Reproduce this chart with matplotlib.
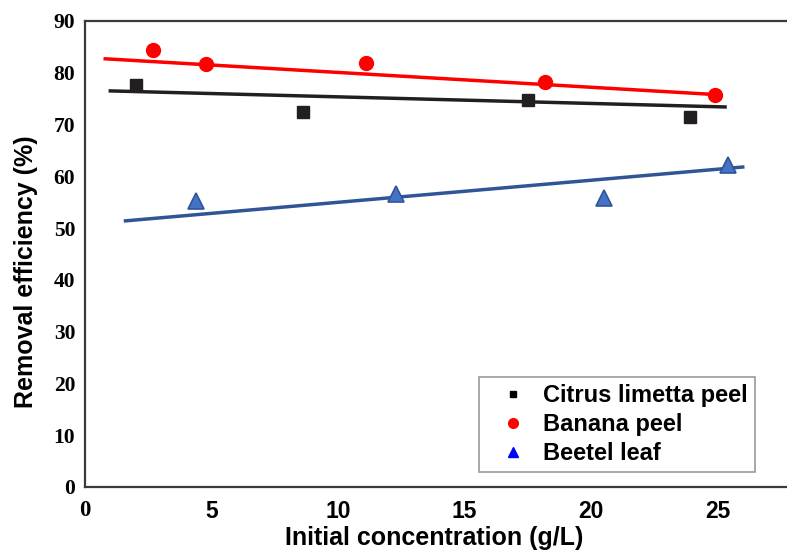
import numpy as np
import matplotlib.pyplot as plt
from matplotlib.lines import Line2D

# Data
citrus_x = [2.0, 8.6, 17.5, 23.9]
citrus_y = [77.6, 72.4, 74.7, 71.4]
citrus_fit_x = [1.0, 25.3]
citrus_fit_y = [76.5, 73.4]

banana_x = [2.7, 4.8, 11.1, 18.2, 24.9]
banana_y = [84.4, 81.6, 81.9, 78.2, 75.7]
banana_fit_x = [0.8, 24.9]
banana_fit_y = [82.7, 75.8]

beetel_x = [4.4, 12.3, 20.5, 25.4]
beetel_y = [55.2, 56.6, 55.8, 62.1]
beetel_fit_x = [1.6, 26.0]
beetel_fit_y = [51.4, 61.8]

xticks = [0, 5, 10, 15, 20, 25]
yticks = [0, 10, 20, 30, 40, 50, 60, 70, 80, 90]

serif = 'Liberation Serif'
sans = 'Liberation Sans'

fig = plt.figure(figsize=(7.87, 5.52), dpi=100)
ax = fig.add_axes([85/787, 1 - 487/552, 1 - 85/787, 466/552])

# trend lines
ax.plot(citrus_fit_x, citrus_fit_y, color='#231f20', lw=2.5, zorder=2)
ax.plot(banana_fit_x, banana_fit_y, color='#ff0000', lw=2.5, zorder=2)
ax.plot(beetel_fit_x, beetel_fit_y, color='#2f5597', lw=2.5, zorder=2)

# data points
ax.plot(citrus_x, citrus_y, 's', color='#231f20', ms=9, zorder=3)
ax.plot(banana_x, banana_y, 'o', color='#ff0000', ms=10, zorder=3)
ax.plot(beetel_x, beetel_y, '^', mfc='#4472c4', mec='#2f5597', mew=1.2, ms=12, zorder=3)

ax.set_xlim(0, 27.75)
ax.set_ylim(0, 90)
ax.set_xticks(xticks)
ax.set_yticks(yticks)
ax.tick_params(length=0)
ax.tick_params(axis='x', pad=9)
ax.tick_params(axis='y', pad=7)

ax.set_yticklabels([str(v) for v in yticks], fontfamily=serif, fontweight='bold', fontsize=15.5)
ax.set_xticklabels([str(v) for v in xticks], fontfamily=sans, fontweight='bold', fontsize=16.5)
ax.get_xticklabels()[0].set_fontfamily(serif)

for s in ['left', 'bottom', 'top']:
    ax.spines[s].set_color('#3a3a3a')
    ax.spines[s].set_linewidth(1.6)
ax.spines['right'].set_visible(False)

ax.set_xlabel('Initial concentration (g/L)', fontfamily=sans, fontweight='bold', fontsize=18)
ax.set_ylabel('Removal efficiency (%)', fontfamily=sans, fontweight='bold', fontsize=18)
ax.xaxis.set_label_coords((434 - 85) / 702, -(526 - 487) / 466)
ax.yaxis.set_label_coords(-(85 - 38) / 702, (487 - 272) / 466)

handles = [
    Line2D([], [], ls='none', marker='s', color='black', ms=5),
    Line2D([], [], ls='none', marker='o', color='#ff0000', ms=7),
    Line2D([], [], ls='none', marker='^', color='#0000ff', ms=7),
]
leg = ax.legend(handles, ['Citrus limetta peel', 'Banana peel', 'Beetel leaf'],
                loc='lower right', bbox_to_anchor=(0.954, 0.032),
                prop={'family': sans, 'weight': 'bold', 'size': 17},
                frameon=True, fancybox=False, edgecolor='#808080',
                handlelength=2.3, handletextpad=0.1, labelspacing=0.25,
                borderpad=0.3, borderaxespad=0)
leg.get_frame().set_linewidth(1.2)

fig.savefig('out.png', dpi=100)
